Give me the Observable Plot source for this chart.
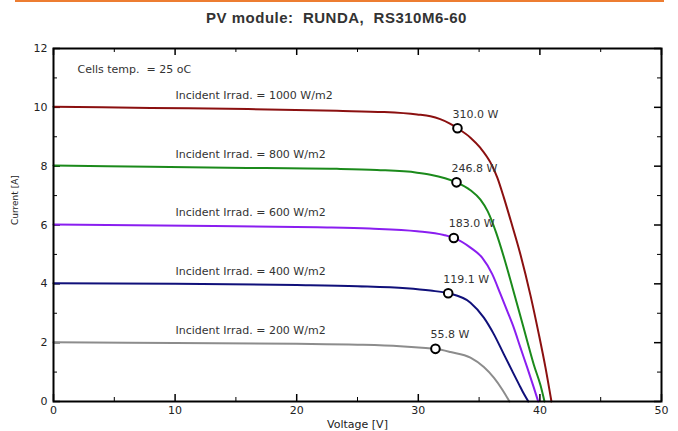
<!DOCTYPE html>
<html>
<head>
<meta charset="utf-8">
<script src="https://cdn.jsdelivr.net/npm/d3@7"></script>
<script src="https://cdn.jsdelivr.net/npm/@observablehq/plot@0.6"></script>
<style>
  body { margin: 0; background: #fff; }
  #wrap { position: relative; width: 678px; height: 431px; font-family: "Liberation Sans", Arial, sans-serif; overflow: hidden; }
  #bar { position: absolute; left: 15px; top: 0; width: 649px; height: 2px; background: #ED7D31; }
  #title { position: absolute; left: 0; top: 11px; width: 673px; text-align: center; font-weight: bold; font-size: 15px; letter-spacing: 0.5px; line-height: 14px; color: #333; white-space: pre; }
  #chart { position: absolute; left: 0; top: 34px; }
  #chart svg text { white-space: pre; }
</style>
</head>
<body>
<div id="wrap">
  <div id="bar"></div>
  <div id="title">PV module:  RUNDA,  RS310M6-60</div>
  <div id="chart"></div>
</div>
<script>
// ---- data ----
const irradiances = ["1000", "800", "600", "400", "200"];
const irrLabels = ["Incident Irrad. = 1000 W/m2", "Incident Irrad. = 800 W/m2", "Incident Irrad. = 600 W/m2", "Incident Irrad. = 400 W/m2", "Incident Irrad. = 200 W/m2"];
const tempLabel = "Cells temp.  = 25 oC";

const v1000 = [0, 8, 16, 23.3, 27.2, 29.9, 31.0, 31.8, 32.6, 33.22, 34.29, 35.11, 35.94, 36.49, 37.03, 37.6, 38.4, 39.23, 39.91, 40.46, 40.95];
const i1000 = [10.02, 9.98, 9.94, 9.88, 9.84, 9.76, 9.70, 9.60, 9.45, 9.29, 8.97, 8.62, 8.12, 7.62, 6.94, 6.15, 5.0, 3.6, 2.29, 1.15, 0];

const v800 = [0, 8, 14.3, 23.3, 26.6, 29.9, 31.0, 32.2, 33.14, 34.29, 35.11, 35.7, 36.4, 37.1, 37.75, 38.4, 38.96, 39.5, 40.05, 40.38];
const i800 = [8.02, 7.98, 7.95, 7.91, 7.87, 7.78, 7.71, 7.59, 7.45, 7.18, 6.86, 6.47, 5.74, 4.82, 3.87, 2.90, 2.05, 1.25, 0.55, 0];

const v600 = [0, 13.2, 21.7, 26, 29.9, 32.1, 32.92, 34.29, 35.25, 36.08, 36.76, 37.31, 37.85, 38.4, 38.96, 39.5, 39.86];
const i600 = [6.02, 5.97, 5.92, 5.88, 5.79, 5.66, 5.56, 5.23, 4.89, 4.33, 3.65, 3.08, 2.51, 1.83, 1.15, 0.47, 0];

const v400 = [0, 10, 20, 25, 29, 31, 32.46, 34.29, 35.39, 36.21, 37.03, 37.72, 38.27, 38.68, 39.05];
const i400 = [4.02, 4.0, 3.96, 3.92, 3.85, 3.77, 3.68, 3.36, 2.85, 2.29, 1.61, 1.04, 0.59, 0.26, 0];

const v200 = [0, 10, 20, 25, 28.5, 30.3, 31.41, 32.65, 34.29, 35.39, 36.21, 36.9, 37.5];
const i200 = [2.01, 1.99, 1.96, 1.93, 1.88, 1.83, 1.79, 1.68, 1.49, 1.17, 0.81, 0.41, 0];

// maximum power points
const mppV = [33.22, 33.14, 32.92, 32.46, 31.41];
const mppI = [9.29, 7.45, 5.56, 3.68, 1.79];
const mppLabels = ["310.0 W", "246.8 W", "183.0 W", "119.1 W", "55.8 W"];

// axes
const xTicks = [0, 10, 20, 30, 40, 50];
const xMinor = [5, 15, 25, 35, 45];
const yTicks = [0, 2, 4, 6, 8, 10, 12];
const yMinor = [1, 3, 5, 7, 9, 11];
const xTitle = "Voltage [V]";
const yTitle = "Current [A]";

// ---- build tables ----
const volts = [v1000, v800, v600, v400, v200];
const amps = [i1000, i800, i600, i400, i200];
const curves = irradiances.flatMap((g, k) => volts[k].map((v, j) => ({irr: g, V: v, I: amps[k][j]})));
const mpp = irradiances.map((g, k) => ({irr: g, V: mppV[k], I: mppI[k], label: mppLabels[k]}));
const irrText = irradiances.map((g, k) => ({irr: g, I: amps[k][0], label: irrLabels[k]}));
const colors = ["#8B1010", "#1B8A1B", "#8A1EF0", "#10107A", "#8C8C8C"];

const W = 678, H = 397, mT = 14, mB = 30, mL = 53, mR = 17;
const frameW = W - mL - mR, frameH = H - mT - mB;
const ink = "#222";
const font = '"DejaVu Sans", Verdana, sans-serif';

const chart = Plot.plot({
  width: W, height: H,
  marginTop: mT, marginBottom: mB, marginLeft: mL, marginRight: mR,
  x: {domain: [0, 50]},
  y: {domain: [0, 12]},
  color: {domain: irradiances, range: colors},
  style: {fontFamily: font, fontSize: "11px", background: "white", color: ink},
  marks: [
    // inward ticks
    Plot.tickX(xTicks, {x: d => d, insetTop: frameH - 7, stroke: "black", strokeWidth: 1.5}),
    Plot.tickX(xMinor, {x: d => d, insetTop: frameH - 4, stroke: "black", strokeWidth: 1}),
    Plot.tickX(xTicks, {x: d => d, insetBottom: frameH - 7, stroke: "black", strokeWidth: 1.5}),
    Plot.tickX(xMinor, {x: d => d, insetBottom: frameH - 4, stroke: "black", strokeWidth: 1}),
    Plot.tickY(yTicks, {y: d => d, insetRight: frameW - 7, stroke: "black", strokeWidth: 1.5}),
    Plot.tickY(yMinor, {y: d => d, insetRight: frameW - 4, stroke: "black", strokeWidth: 1}),
    Plot.tickY(yTicks, {y: d => d, insetLeft: frameW - 7, stroke: "black", strokeWidth: 1.5}),
    Plot.tickY(yMinor, {y: d => d, insetLeft: frameW - 4, stroke: "black", strokeWidth: 1}),
    Plot.axisX(xTicks, {anchor: "bottom", tickSize: 0, tickPadding: 5, label: null, fill: ink, fontSize: 11}),
    Plot.axisY(yTicks, {anchor: "left", tickSize: 0, tickPadding: 6, label: null, fill: ink, fontSize: 11}),
    // curves
    Plot.line(curves, {x: "V", y: "I", z: "irr", stroke: "irr", strokeWidth: 2, curve: "monotone-x"}),
    // texts
    Plot.text(irrText, {y: "I", text: "label", frameAnchor: "left", dx: 122, dy: -11.5, textAnchor: "start", lineAnchor: "middle", fill: "#333", fontSize: 11}),
    Plot.text([tempLabel], {text: d => d, frameAnchor: "top-left", dx: 24, dy: 21, textAnchor: "start", lineAnchor: "middle", fill: "#333", fontSize: 11}),
    Plot.text(mpp, {x: "V", y: "I", text: "label", dx: -5, dy: -14, textAnchor: "start", lineAnchor: "middle", fill: "#333", fontSize: 11}),
    Plot.dot(mpp, {x: "V", y: "I", r: 4.3, fill: "white", stroke: "black", strokeWidth: 2}),
    Plot.frame({stroke: "black", strokeWidth: 2}),
    Plot.text([xTitle], {text: d => d, frameAnchor: "bottom", dy: 23, lineAnchor: "middle", fill: ink, fontSize: 11}),
    Plot.text([yTitle], {text: d => d, frameAnchor: "left", dx: -38, rotate: -90, lineAnchor: "middle", fill: ink, fontSize: 9})
  ]
});
document.getElementById("chart").appendChild(chart);
</script>
</body>
</html>
